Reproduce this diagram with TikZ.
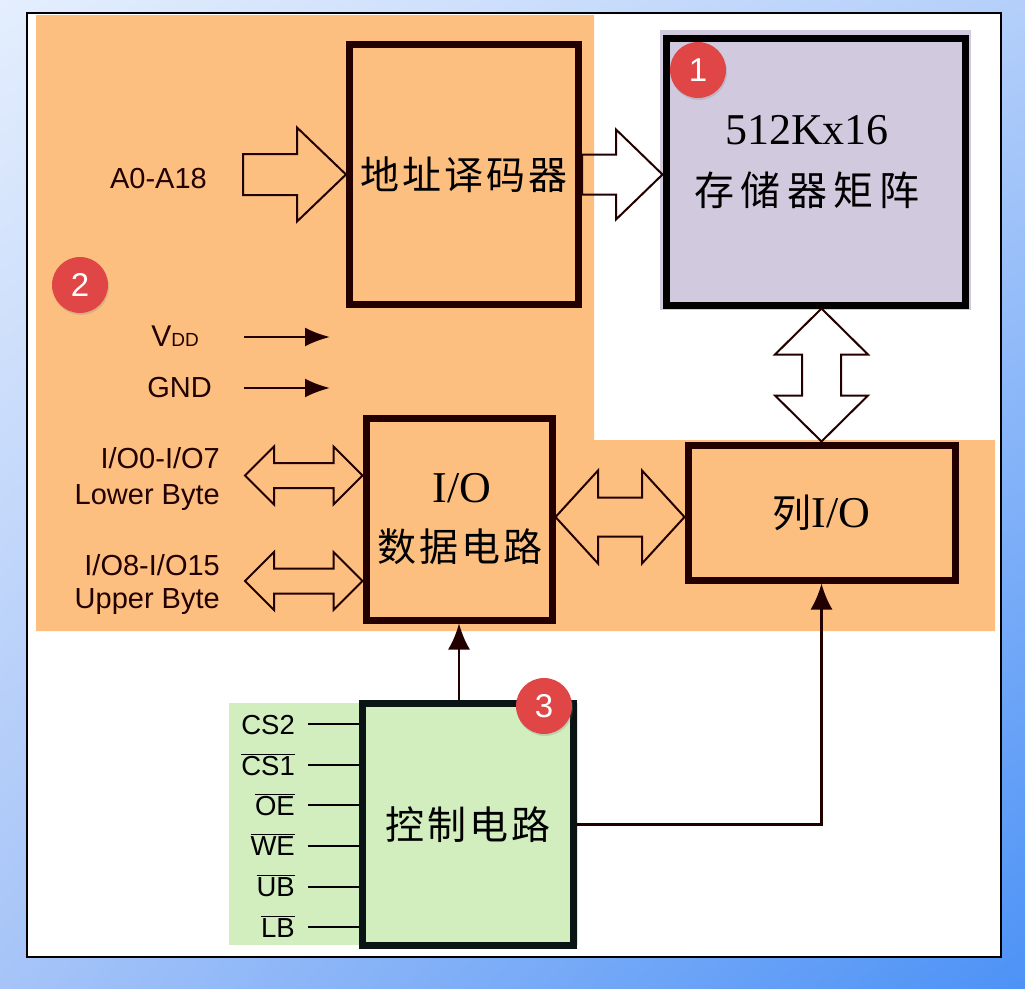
\documentclass[tikz,border=0pt]{standalone}
\usepackage{fontspec}
\setmainfont{Liberation Serif}
\setsansfont{Liberation Sans}
\newfontfamily\cjk[LetterSpace=8]{Noto Sans CJK SC}
\usetikzlibrary{arrows.meta,calc,shadows,shadings}

\definecolor{bgTL}{HTML}{E4EEFD}
\definecolor{bgTR}{HTML}{B4CFFA}
\definecolor{bgBL}{HTML}{A6C4F8}
\definecolor{bgBR}{HTML}{4C92F6}
\definecolor{orng}{HTML}{FCBF80}
\definecolor{boxc}{HTML}{220000}
\definecolor{lav}{HTML}{D1C9DE}
\definecolor{grn}{HTML}{D2EDBE}
\definecolor{ctlc}{HTML}{0A1414}
\definecolor{badgec}{HTML}{E04646}

\newcommand\hdarrow[5]{\draw[blk] (#1) -- ++(#3,-#4) -- ++(0,#4-#5) -- ($(#2)+(-#3,-#5)$) -- ++(0,#5-#4) -- (#2) -- ++(-#3,#4) -- ++(0,#5-#4) -- ($(#1)+(#3,#5)$) -- ++(0,#4-#5) -- cycle;}
\newcommand\vdarrow[5]{\draw[blk] (#1) -- ++(#4,#3) -- ++(#5-#4,0) -- ($(#2)+(#5,-#3)$) -- ++(#4-#5,0) -- (#2) -- ++(-#4,-#3) -- ++(#4-#5,0) -- ($(#1)+(-#5,#3)$) -- ++(#5-#4,0) -- cycle;}

\begin{document}
\begin{tikzpicture}[x=1pt,y=-1pt,
  boxo/.style={draw=boxc, line width=7pt, fill=orng, inner sep=0pt},
  cjkt/.style={font=\cjk\fontsize{39}{39}\selectfont, inner sep=0pt},
  sert/.style={font=\fontsize{44}{44}\selectfont, inner sep=0pt},
  lbl/.style={font=\sffamily\fontsize{29}{29}\selectfont, inner sep=0pt, text=boxc},
  ctllbl/.style={font=\sffamily\fontsize{27.5}{27.5}\selectfont, inner sep=0pt, anchor=base east},
  badge/.style={circle, fill=badgec, text=white, minimum size=56pt, inner sep=0pt,
     font=\sffamily\fontsize{33}{33}\selectfont,
     drop shadow={opacity=0.25, shadow xshift=1pt, shadow yshift=-2pt}},
  blk/.style={draw=boxc, line width=2pt, line join=miter},
  conn/.style={draw=boxc, line width=2.5pt, -{Latex[length=26pt,width=22pt]}},
  thinarr/.style={draw=boxc, line width=2.4pt, -{Latex[length=25pt,width=19pt]}},
  pinline/.style={draw=black, line width=2.5pt}
]
\useasboundingbox (0,0) rectangle (1025,988);
\shade[upper left=bgTL, upper right=bgTR, lower left=bgBL, lower right=bgBR] (0,0) rectangle (1025,988);
\draw[fill=white, line width=1.5pt] (27,13) rectangle (1001,957);
\fill[orng] (36,15) -- (594,15) -- (594,440) -- (995,440) -- (995,631) -- (36,631) -- cycle;
\fill[grn] (229,703) rectangle (578,945);
\fill[lav] (660,30) rectangle (971,310);

% boxes
\node[boxo, minimum width=229pt, minimum height=260pt, cjkt] (dec) at (464,174.5) {地址译码器};
\node[draw=black, line width=7pt, minimum width=299.5pt, minimum height=266.5pt] (mat) at (815.75,171.75) {};
\node[sert] (mat1) at (807,130) {512Kx16};
\node[cjkt, font=\cjk\fontsize{40}{40}\selectfont\addfontfeature{LetterSpace=16}] (mat2) at (807,190) {存储器矩阵};
\node[boxo, minimum width=186pt, minimum height=202pt] (io) at (459,519) {};
\node[sert] (io1) at (462,488) {I/O};
\node[cjkt] (io2) at (460,547) {数据电路};
\node[boxo, minimum width=267pt, minimum height=135pt, sert] (col) at (821.5,512.5) {{\cjk\fontsize{39}{39}\selectfont 列}I/O};
\node[draw=ctlc, line width=7pt, fill=grn, minimum width=211pt, minimum height=242pt, cjkt] (ctl) at (468,824.5) {控制电路};

% left labels
\node[lbl, anchor=base east] (a18) at (207,188) {A0-A18};
\node[lbl, anchor=base east] (vdd) at (199,346) {\fontsize{30}{30}\selectfont V\fontsize{19}{19}\selectfont DD};
\node[lbl, anchor=base east] (gnd) at (212,397) {GND};
\node[lbl, anchor=base east] (io07) at (220,468) {I/O0-I/O7};
\node[lbl, anchor=base east] (lowb) at (220,504) {Lower Byte};
\node[lbl, anchor=base east] (io815) at (220,575) {I/O8-I/O15};
\node[lbl, anchor=base east] (uppb) at (220,608) {Upper Byte};

% block arrows
\coordinate (a18s) at ($(dec.west)+(-103,0)$);
\draw[blk] (a18s) ++(0,-20.5) -- ++(54,0) -- ++(0,-26.5) -- (dec.west) -- ++(-49,47) -- ++(0,-26.5) -- ++(-54,0) -- cycle;
\draw[blk] (dec.east) ++(0,-20) -- ++(34,0) -- ++(0,-25) -- (dec.east -| mat.west) -- ++(-46.5,45) -- ++(0,-25) -- ++(-34,0) -- cycle;
\coordinate (vt) at (mat.south -| col.north);
\vdarrow{vt}{col.north}{46}{46.5}{19.5}
\coordinate (l1) at (245,475.5);
\coordinate (r1) at (io.west |- l1);
\hdarrow{l1}{r1}{29}{29}{12.5}
\coordinate (l2) at (245,581);
\coordinate (r2) at (io.west |- l2);
\hdarrow{l2}{r2}{29}{29}{12.5}
\coordinate (ml) at ($(io.east)+(0,-2)$);
\coordinate (mr) at (col.west |- ml);
\hdarrow{ml}{mr}{42.5}{46.5}{19.5}

% thin arrows
\coordinate (vdd1) at (244,337);
\coordinate (vdd2) at (330,337);
\coordinate (gnd1) at (244,388);
\coordinate (gnd2) at (330,388);
\draw[thinarr] (vdd1) -- (vdd2);
\draw[thinarr] (gnd1) -- (gnd2);

% control inputs
\node[ctllbl] (cs2) at (295,734) {CS2};
\node[ctllbl] (cs1) at (295,775) {$\overline{\mbox{CS1}}$};
\node[ctllbl] (oe) at (295,815) {$\overline{\mbox{OE}}$};
\node[ctllbl] (we) at (295,855) {$\overline{\mbox{WE}}$};
\node[ctllbl] (ub) at (295,896) {$\overline{\mbox{UB}}$};
\node[ctllbl] (lb) at (295,937) {$\overline{\mbox{LB}}$};
\foreach \n/\y in {1/724,2/765,3/805,4/846,5/887,6/927}{
  \coordinate (p\n) at (308,\y);
  \draw[pinline] (p\n) -- (p\n -| ctl.west);
}

% connectors
\draw[conn] (ctl.north -| io.south) -- (io.south);
\draw[conn] (ctl.east) -| (col.south);

% badges
\node[badge] (b1) at (698,70) {1};
\node[badge] (b2) at (80,285) {2};
\node[badge] (b3) at (544,706) {3};
\end{tikzpicture}
\end{document}
